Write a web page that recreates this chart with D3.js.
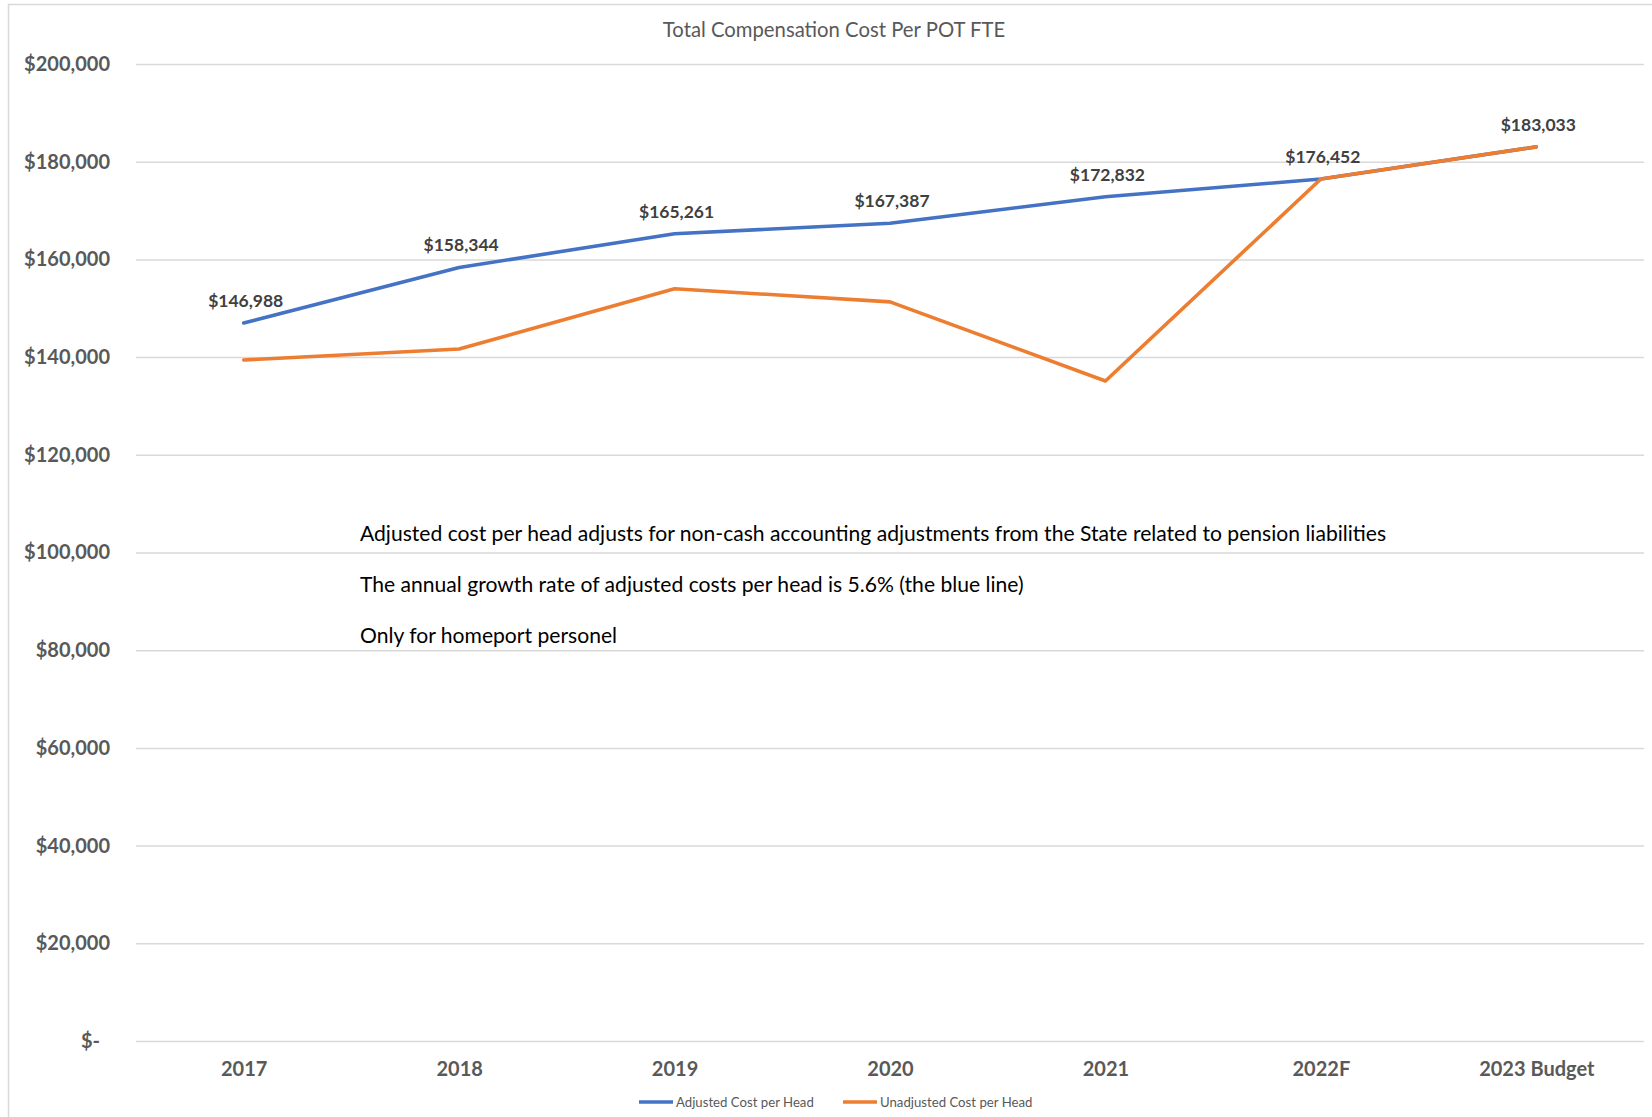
<!DOCTYPE html>
<html>
<head>
<meta charset="utf-8">
<script src="https://cdn.jsdelivr.net/npm/d3@7"></script>
<style>
  html, body { margin: 0; padding: 0; background: #fff; }
  svg { display: block; font-family: Lato, "Open Sans", sans-serif; }
</style>
</head>
<body>
<svg id="chart" width="1652" height="1117"></svg>
<script>
// Chart data
const categories = ["2017", "2018", "2019", "2020", "2021", "2022F", "2023 Budget"];
const adjusted = [146988, 158344, 165261, 167387, 172832, 176452, 183033];
const unadjusted = [139400, 141650, 154000, 151300, 135100, 176452, 183033];
const yTicks = [0, 20000, 40000, 60000, 80000, 100000, 120000, 140000, 160000, 180000, 200000];
const seriesNames = ["Adjusted Cost per Head", "Unadjusted Cost per Head"];
const seriesColors = ["#4472C4", "#ED7D31"];
const chartTitle = "Total Compensation Cost Per POT FTE";
const notes = [
  "Adjusted cost per head adjusts for non-cash accounting adjustments from the State related to pension liabilities",
  "The annual growth rate of adjusted costs per head is 5.6% (the blue line)",
  "Only for homeport personel"
];

const svg = d3.select("#chart");
const W = 1652, H = 1117;
const plot = { left: 136, right: 1644, top: 64, bottom: 1041 };

// Outer chart-area border
svg.append("rect")
  .attr("x", 8.5).attr("y", 4.5)
  .attr("width", W + 10).attr("height", H + 10)
  .attr("fill", "#fff").attr("stroke", "#d9d9d9").attr("stroke-width", 1.5);

const x = d3.scalePoint().domain(categories).range([plot.left, plot.right]).padding(0.5);
const y = d3.scaleLinear().domain([0, 200000]).range([plot.bottom, plot.top]);

// Title
svg.append("text")
  .attr("x", 834).attr("y", 37)
  .attr("text-anchor", "middle")
  .attr("font-size", 20.3)
  .attr("fill", "#595959")
  .text(chartTitle);

// Horizontal gridlines + y labels
const yAxis = d3.axisLeft(y)
  .tickValues(yTicks)
  .tickSize(-(plot.right - plot.left))
  .tickPadding(26)
  .tickFormat(d => d === 0 ? "$-" : "$" + d3.format(",")(d));

const gy = svg.append("g")
  .attr("transform", `translate(${plot.left},0)`)
  .call(yAxis);
gy.select(".domain").remove();
gy.selectAll(".tick line").attr("stroke", "#d9d9d9").attr("stroke-width", 1.5);
gy.selectAll(".tick text")
  .attr("font-family", "Lato, sans-serif")
  .attr("font-size", 20)
  .attr("font-weight", "bold")
  .attr("fill", "#595959")
  .attr("dx", d => d === 0 ? -10 : 0);

// Category labels
const xAxis = d3.axisBottom(x).tickSize(0).tickPadding(21);
const gx = svg.append("g")
  .attr("transform", `translate(0,${plot.bottom})`)
  .call(xAxis);
gx.select(".domain").remove();
gx.selectAll(".tick text")
  .attr("font-family", "Lato, sans-serif")
  .attr("font-size", 20)
  .attr("font-weight", "bold")
  .attr("fill", "#595959");

// Notes inside the plot
svg.append("g").selectAll("text")
  .data(notes)
  .join("text")
  .attr("x", 360)
  .attr("y", (d, i) => 541 + i * 51)
  .attr("font-size", 21.1)
  .attr("fill", "#000")
  .text(d => d);

// Lines
const line = d3.line()
  .x((d, i) => x(categories[i]))
  .y(d => y(d));

[adjusted, unadjusted].forEach((vals, k) => {
  svg.append("path")
    .datum(vals)
    .attr("d", line)
    .attr("fill", "none")
    .attr("stroke", seriesColors[k])
    .attr("stroke-width", 3.6)
    .attr("stroke-linejoin", "round")
    .attr("stroke-linecap", "round");
});

// Value labels for the adjusted series
svg.append("g").selectAll("text")
  .data(adjusted)
  .join("text")
  .attr("x", (d, i) => x(categories[i]) + 2)
  .attr("y", d => y(d) - 16)
  .attr("text-anchor", "middle")
  .attr("font-size", 17.5)
  .attr("font-weight", "bold")
  .attr("fill", "#404040")
  .text(d => "$" + d3.format(",")(d));

// Legend
const legendItems = [
  { name: seriesNames[0], color: seriesColors[0], x: 639 },
  { name: seriesNames[1], color: seriesColors[1], x: 843 }
];
const lg = svg.append("g");
legendItems.forEach(item => {
  lg.append("line")
    .attr("x1", item.x).attr("x2", item.x + 34)
    .attr("y1", 1102).attr("y2", 1102)
    .attr("stroke", item.color).attr("stroke-width", 3.6);
  lg.append("text")
    .attr("x", item.x + 37).attr("y", 1106.5)
    .attr("font-size", 13.2)
    .attr("fill", "#595959")
    .text(item.name);
});
</script>
</body>
</html>
